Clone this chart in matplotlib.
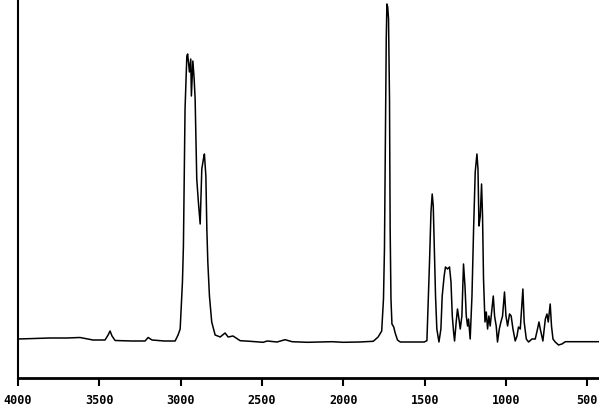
import matplotlib
matplotlib.use("Agg")
import matplotlib.pyplot as plt

# IR spectrum: wavenumber (cm-1) and absorbance height (arb.)
wavenumber = [
    4000, 3900, 3803, 3700, 3619, 3539, 3465, 3446, 3434, 3422, 3403, 3300,
    3219, 3200, 3176, 3100, 3034, 3016, 3003, 2989, 2983, 2973, 2962, 2957,
    2946, 2938, 2934, 2925, 2917, 2911, 2901, 2891, 2880, 2870, 2860, 2854,
    2845, 2839, 2833, 2823, 2809, 2788, 2757, 2727, 2708, 2678, 2634, 2573,
    2493, 2468, 2407, 2358, 2315, 2222, 2069, 2001, 1900, 1816, 1786, 1764,
    1753, 1747, 1741, 1736, 1732, 1727, 1722, 1716, 1712, 1707, 1701, 1690,
    1681, 1667, 1650, 1503, 1486, 1470, 1461, 1453.5, 1447, 1441, 1433, 1425,
    1412, 1400, 1392, 1380, 1372, 1359, 1347, 1338, 1330, 1322, 1316, 1306,
    1298, 1289, 1281, 1271, 1261, 1252, 1244, 1236, 1230, 1220, 1209, 1199,
    1189, 1178.5, 1172, 1166, 1158, 1150, 1144, 1138, 1129, 1121, 1113, 1105,
    1097, 1086, 1078, 1070, 1060, 1052, 1041, 1031, 1021, 1009, 1000, 990,
    978, 968, 957, 943, 932, 923, 912, 904, 896, 888, 875, 861,
    840, 820, 806, 797, 789, 773, 758, 748, 740, 728, 720, 711,
    697, 677, 656, 635, 430,
]
absorbance = [
    39, 39.5, 40, 40, 40.5, 38, 38, 43, 47, 42, 37.5, 37,
    37, 40.5, 38, 37, 37, 43, 49, 96, 132, 269, 322, 324,
    306, 319, 282, 317, 299, 279, 199, 176, 154, 209, 219, 224,
    202, 149, 116, 82, 56, 43, 41, 45, 41, 42, 37.3, 36.7,
    35.7, 37, 36, 38.3, 36.3, 35.7, 36.3, 35.7, 36, 36.7, 41, 47,
    79, 129, 239, 339, 374, 371, 359, 279, 149, 79, 54, 51,
    45, 38, 36, 36, 37.3, 116, 166, 184, 172, 132, 82, 49,
    36, 49, 82, 102, 111, 109, 111, 96, 62, 46, 37, 56,
    69, 59, 49, 62, 114, 92, 62, 52, 59, 39, 82, 149,
    206, 224, 209, 152, 162, 194, 162, 99, 56, 66, 49, 62,
    52, 69, 82, 62, 52, 36, 49, 56, 62, 86, 62, 52,
    64, 62, 49, 37, 42, 51, 49, 69, 89, 56, 39, 36,
    39, 39, 49, 56, 49, 37, 59, 64, 56, 74, 52, 39,
    36, 33, 34, 36.3, 36.3,
]

tick_values = [4000, 3500, 3000, 2500, 2000, 1500, 1000, 500]
tick_labels = ["4000", "3500", "3000", "2500", "2000", "1500", "1000", "500"]

fig = plt.figure(figsize=(5.99, 4.06), dpi=100)
ax = fig.add_axes([18 / 599, 27 / 406, 581 / 599, 379 / 406])

ax.plot(wavenumber, absorbance, color="black", linewidth=1.1)

ax.set_xlim(4000, 428)
ax.set_ylim(0, 379)

ax.spines["top"].set_visible(False)
ax.spines["right"].set_visible(False)
ax.spines["bottom"].set_linewidth(2.0)
ax.spines["left"].set_linewidth(1.5)

ax.set_yticks([])
ax.set_xticks(tick_values)
ax.set_xticklabels(tick_labels, fontfamily="DejaVu Sans Mono", fontweight="bold", fontsize=8.5)
ax.tick_params(axis="x", direction="out", length=6, width=1.5, pad=5)

fig.savefig("out.png", dpi=100)
plt.close(fig)
